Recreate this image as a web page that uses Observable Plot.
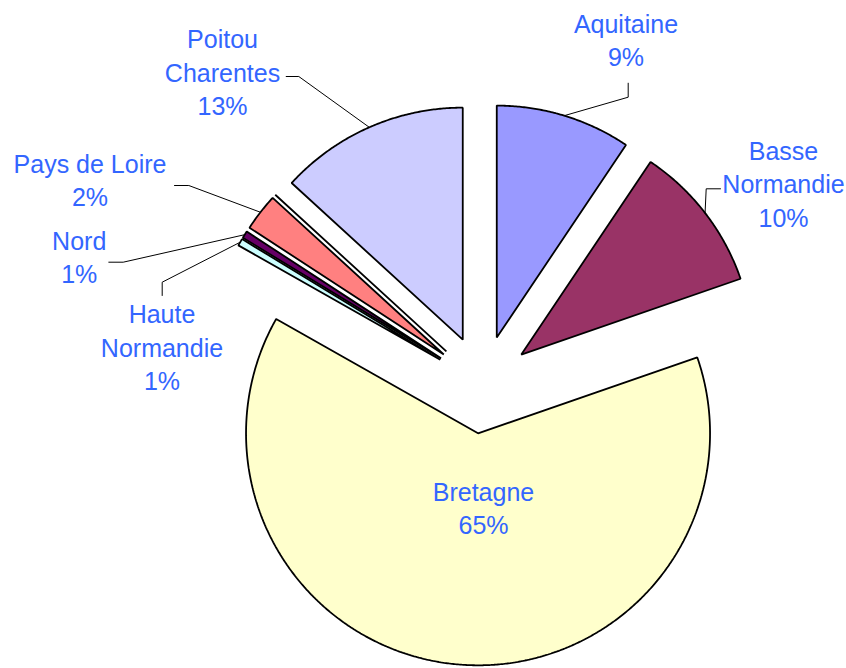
<!DOCTYPE html>
<html><head><meta charset="utf-8">
<script src="https://cdn.jsdelivr.net/npm/d3@7"></script>
<script src="https://cdn.jsdelivr.net/npm/@observablehq/plot@0.6"></script>
<style>html,body{margin:0;padding:0;background:#fff;}</style>
</head><body><div id="chart"></div>
<script>
// ---- data ----
const regions = ["Aquitaine","Basse Normandie","Bretagne","Haute Normandie","Nord","Pays de Loire","(vide)","Poitou Charentes"];
const shares = [9.4, 10.3, 63.5, 0.5, 0.5, 2.6, 0, 13.2];
const percentLabels = ["9%","10%","65%","1%","1%","2%","","13%"];
const labelNames = ["Aquitaine","Basse\nNormandie","Bretagne","Haute\nNormandie","Nord","Pays de Loire","","Poitou\nCharentes"];
const sliceColors = ["#9999FF","#993366","#FFFFCC","#CCFFFF","#660066","#FF8080","#FFFFFF","#CCCCFF"];

// ---- layout ----
const W = 846, H = 668, CX = 482, CY = 384, R = 232, EXPLODE = 49;
const labelPos = {
  "Aquitaine": [625.5, 38.3],
  "Basse Normandie": [783, 182],
  "Bretagne": [483, 506.6],
  "Haute Normandie": [161.5, 345.3],
  "Nord": [78.7, 255],
  "Pays de Loire": [89.5, 178.3],
  "Poitou Charentes": [222, 70.3]
};
const leaderStubs = {
  "Aquitaine": [[627.7, 82.7], [627.7, 96.7]],
  "Basse Normandie": [[720, 188.3], [705.7, 188.3]],
  "Poitou Charentes": [[285.7, 76], [298.3, 76]],
  "Pays de Loire": [[174, 185], [188.3, 185]],
  "Nord": [[108.3, 261.7], [122.7, 261.7]],
  "Haute Normandie": [[161.7, 295], [161.7, 281.7]]
};

const arcs = d3.pie().sort(null).value((d, i) => shares[i])(regions);

const slicePts = [];
const leaderPts = [];
const labels = [];
arcs.forEach((a, i) => {
  const name = regions[i];
  const mid = (a.startAngle + a.endAngle) / 2;
  const ax = CX + EXPLODE * Math.sin(mid), ay = CY - EXPLODE * Math.cos(mid);
  slicePts.push({name, color: sliceColors[i], x: ax, y: ay});
  const span = a.endAngle - a.startAngle;
  const n = Math.max(1, Math.ceil(span / (0.4 * Math.PI / 180)));
  for (let k = 0; k <= n; k++) {
    const t = a.startAngle + span * k / n;
    slicePts.push({name, color: sliceColors[i], x: ax + R * Math.sin(t), y: ay - R * Math.cos(t)});
  }
  if (labelPos[name]) {
    labels.push({name, x: labelPos[name][0], y: labelPos[name][1], text: labelNames[i] + "\n" + percentLabels[i]});
  }
  if (leaderStubs[name]) {
    const [s0, s1] = leaderStubs[name];
    leaderPts.push({name, x: s0[0], y: s0[1]});
    leaderPts.push({name, x: s1[0], y: s1[1]});
    leaderPts.push({name, x: ax + R * Math.sin(mid), y: ay - R * Math.cos(mid)});
  }
});

const chart = Plot.plot({
  width: W, height: H,
  margin: 0,
  x: {domain: [0, W], range: [0, W], axis: null},
  y: {domain: [0, H], range: [0, H], axis: null},
  color: {type: "identity"},
  style: {background: "white"},
  marks: [
    Plot.line(slicePts, {x: "x", y: "y", z: "name", fill: "color", stroke: "#000", strokeWidth: 1.8, curve: "linear-closed", strokeLinejoin: "miter"}),
    Plot.line(leaderPts, {x: "x", y: "y", z: "name", stroke: "#000", strokeWidth: 1}),
    Plot.text(labels, {x: "x", y: "y", text: "text", fill: "#3366FF", fontSize: 25, fontFamily: "'Liberation Sans', Arial, sans-serif", lineHeight: 1.336, textAnchor: "middle"})
  ]
});
document.getElementById("chart").appendChild(chart);
</script>
</body></html>
